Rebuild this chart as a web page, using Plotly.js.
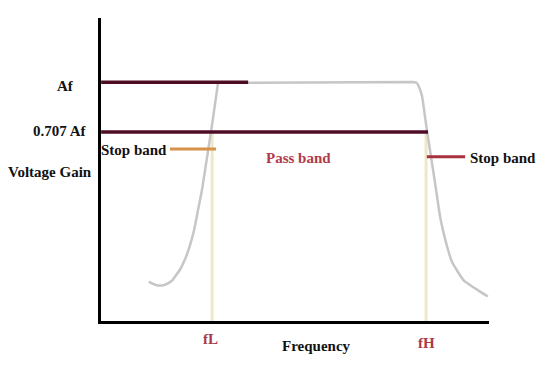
<!DOCTYPE html>
<html>
<head>
<meta charset="utf-8">
<script src="https://cdn.plot.ly/plotly-3.0.1.min.js"></script>
<style>html,body{margin:0;padding:0;background:#fff;}#chart{width:559px;height:381px;}</style>
</head>
<body>
<div id="chart"></div>
<script>
// Frequency response curve (arbitrary units)
const riseFreq = [13.0, 13.8, 14.8, 15.9, 16.9, 17.9, 18.9, 19.9, 21.0, 22.0, 23.0, 23.8, 24.6, 25.6, 26.6, 27.6, 28.9, 29.9, 30.7];
const riseGain = [13.0, 12.4, 11.9, 11.7, 11.9, 12.4, 13.3, 15.0, 17.0, 19.6, 22.9, 26.2, 30.1, 36.7, 43.3, 51.6, 62.4, 71.3, 78.6];
const topFreq = [30.7, 80.6, 81.6];
const topGain = [78.6, 78.9, 78.6];
const fallFreq = [81.6, 82.4, 82.9, 84.1, 84.9, 86.2, 87.5, 88.5, 89.5, 90.5, 92.1, 93.6, 95.7, 97.7, 99.7];
const fallGain = [78.6, 76.3, 74.0, 63.1, 56.5, 45.6, 34.4, 28.5, 23.6, 19.6, 16.1, 13.3, 11.4, 9.7, 8.1];

// Levels
const levelAf = 78.8;
const levelCut = 62.4;
const fL = 29.2;
const fH = 83.9;

// Reference lines
const afLineX = [0.8, 38.4];
const cutLineX = [0.8, 84.4];
const stopLeftX = [18.4, 30.2];
const stopLeftY = 56.8;
const stopRightX = [84.1, 93.9];
const stopRightY = 54.2;
const markerBottom = -1.0;

// Labels
const labelTexts = ["Af", "0.707 Af", "Stop band", "Voltage Gain", "Pass band", "Stop band", "fL", "Frequency", "fH"];
const labelX = [-8.4, -9.8, 9.3, -12.4, 51.3, 103.7, 28.9, 55.8, 84.1];
const labelY = [77.6, 62.8, 56.3, 49.3, 53.9, 53.9, -6.1, -8.4, -7.1];
const labelColors = ["#111111", "#111111", "#111111", "#111111", "#b23a4a", "#111111", "#a83a4a", "#111111", "#a83a4a"];

const xMin = 0.77, xMax = 100, yMin = 0, yMax = 100;

const maroon = "#4e0c24";
const curveLine = {color: "#c6c6c6", width: 2.5};
const traces = [
  {x: [fL, fL], y: [levelCut, markerBottom], mode: "lines", line: {color: "#efe8c6", width: 3}},
  {x: [fH, fH], y: [levelCut, markerBottom], mode: "lines", line: {color: "#efe8c6", width: 3}},
  {x: riseFreq, y: riseGain, mode: "lines", line: Object.assign({shape: "spline", smoothing: 0.5}, curveLine)},
  {x: topFreq, y: topGain, mode: "lines", line: Object.assign({}, curveLine)},
  {x: fallFreq, y: fallGain, mode: "lines", line: Object.assign({shape: "spline", smoothing: 0.5}, curveLine)},
  {x: afLineX, y: [levelAf, levelAf], mode: "lines", line: {color: maroon, width: 3.5}},
  {x: cutLineX, y: [levelCut, levelCut], mode: "lines", line: {color: maroon, width: 3.5}},
  {x: stopLeftX, y: [stopLeftY, stopLeftY], mode: "lines", line: {color: "#d8914a", width: 3}},
  {x: stopRightX, y: [stopRightY, stopRightY], mode: "lines", line: {color: "#a8303f", width: 3}}
];
traces.forEach(t => { t.hoverinfo = "skip"; t.showlegend = false; t.cliponaxis = false; });

const annotations = labelTexts.map((t, i) => ({
  x: (labelX[i] - xMin) / (xMax - xMin), y: (labelY[i] - yMin) / (yMax - yMin),
  xref: "paper", yref: "paper",
  text: "<b>" + t + "</b>", showarrow: false,
  xanchor: "center", yanchor: "middle",
  font: {family: "Liberation Serif, Times New Roman, serif", size: 15, color: labelColors[i]}
}));

const layout = {
  width: 559, height: 381,
  margin: {l: 101, r: 70, t: 18, b: 59.5},
  paper_bgcolor: "#ffffff", plot_bgcolor: "#ffffff",
  showlegend: false,
  xaxis: {range: [xMin, xMax], showline: true, linecolor: "#000", linewidth: 3, showgrid: false, zeroline: false, showticklabels: false, ticks: "", fixedrange: true},
  yaxis: {range: [yMin, yMax], showline: true, linecolor: "#000", linewidth: 3, showgrid: false, zeroline: false, showticklabels: false, ticks: "", fixedrange: true},
  annotations: annotations
};

Plotly.newPlot("chart", traces, layout, {displayModeBar: false, staticPlot: true});
</script>
</body>
</html>
